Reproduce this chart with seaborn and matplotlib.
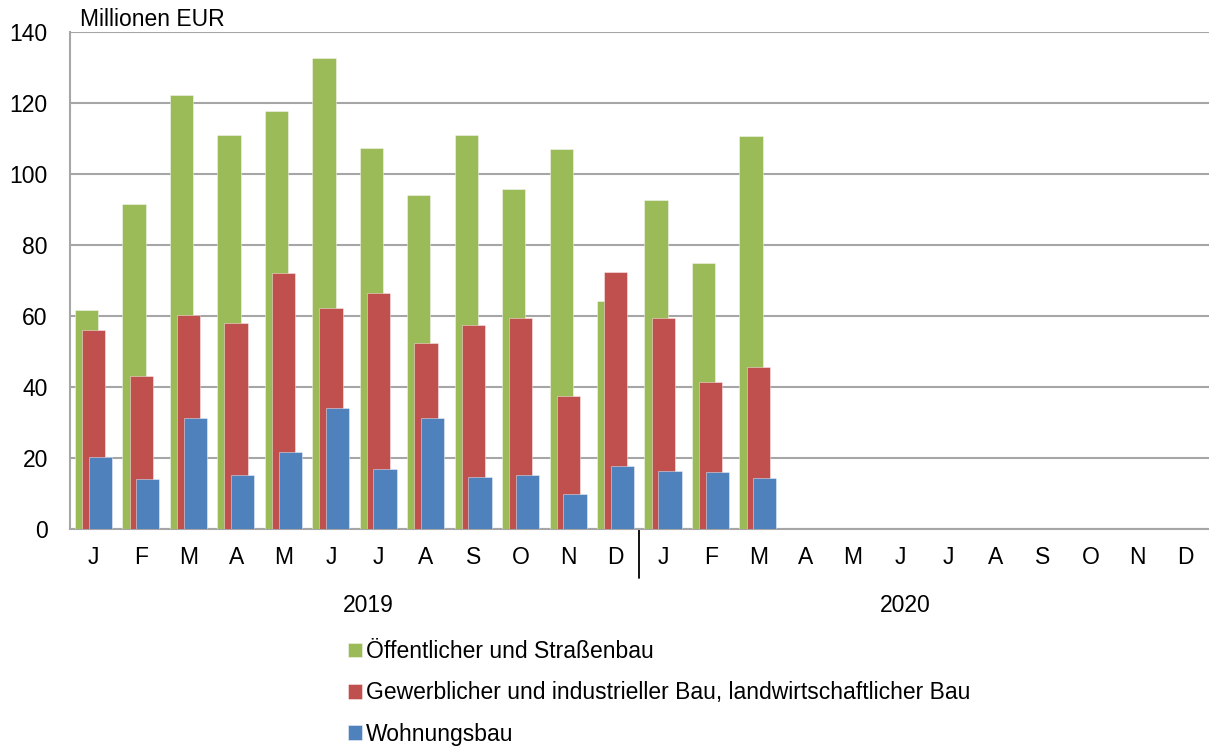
import numpy as np
import pandas as pd
import matplotlib
matplotlib.use("Agg")
import matplotlib.pyplot as plt
import seaborn as sns

# Daten (Millionen EUR), Jan 2019 - Dez 2020
monate = ["J", "F", "M", "A", "M", "J", "J", "A", "S", "O", "N", "D"] * 2
jahre = ["2019", "2020"]

oeffentlich = [61.7, 91.5, 122.3, 111.1, 117.7, 132.6, 107.3, 94.1, 110.9, 95.7, 107.0, 64.1,
               92.8, 74.8, 110.7] + [np.nan] * 9
gewerblich = [56.1, 43.2, 60.4, 57.9, 72.0, 62.2, 66.6, 52.5, 57.5, 59.5, 37.5, 72.4,
              59.5, 41.5, 45.6] + [np.nan] * 9
wohnungsbau = [20.2, 14.0, 31.4, 15.2, 21.6, 34.0, 16.9, 31.2, 14.7, 15.2, 9.9, 17.7,
               16.2, 16.1, 14.4] + [np.nan] * 9

serien = ["Öffentlicher und Straßenbau",
          "Gewerblicher und industrieller Bau, landwirtschaftlicher Bau",
          "Wohnungsbau"]
farben = ["#9BBB59", "#C0504D", "#4F81BD"]
versatz = [-0.15, 0.0, 0.14]

sns.set_theme(style="white")
plt.rcParams["font.family"] = ["Liberation Sans", "DejaVu Sans"]
plt.rcParams["text.color"] = "black"
fs = 16.5

fig = plt.figure(figsize=(12.09, 7.51), dpi=100)
ax = fig.add_axes([70 / 1209, 1 - 529 / 751, 1 - 70 / 1209, (529 - 32) / 751])

pos = np.arange(len(monate))
for name, werte, farbe, dx in zip(serien, [oeffentlich, gewerblich, wohnungsbau], farben, versatz):
    df = pd.DataFrame({"x": pos + dx, "wert": werte}).dropna()
    sns.barplot(data=df, x="x", y="wert", native_scale=True, width=0.49, color=farbe,
                errorbar=None, edgecolor=(1, 1, 1, 0.5), linewidth=0.6, label=name, ax=ax,
                saturation=1, zorder=3)

ax.set_xlim(-0.5, 23.5)
ax.set_ylim(0, 140)
ax.set_yticks(range(0, 141, 20))
ax.set_xticks(pos)
ax.set_xticklabels(monate)
ax.tick_params(axis="both", length=0, labelsize=fs, labelcolor="black")
ax.tick_params(axis="x", pad=12)
ax.tick_params(axis="y", pad=16)
ax.set_xlabel("")
ax.set_ylabel("")
ax.yaxis.grid(True, color="#A6A6A6", linewidth=1.5, zorder=0)
ax.set_axisbelow(True)
for s in ["top", "right"]:
    ax.spines[s].set_visible(False)
for s in ["left", "bottom"]:
    ax.spines[s].set_color("#A6A6A6")
    ax.spines[s].set_linewidth(1.5)

# Trennlinie zwischen den Jahren
trans = ax.get_xaxis_transform()
ax.plot([11.5, 11.5], [0, -0.099], color="black", linewidth=1.3, transform=trans, clip_on=False)
ax.text(5.78, -0.153, jahre[0], transform=trans, ha="center", va="center", fontsize=fs)
ax.text(17.09, -0.153, jahre[1], transform=trans, ha="center", va="center", fontsize=fs)

fig.text(80 / 1209, 1 - 19 / 751, "Millionen EUR", ha="left", va="center", fontsize=fs)

leg = ax.legend(loc="upper left", bbox_to_anchor=(348 / 1209, 1 - 640 / 751),
                bbox_transform=fig.transFigure, frameon=False, fontsize=fs,
                handlelength=0.6, handleheight=0.6, handletextpad=0.2,
                labelspacing=0.8, borderpad=0, borderaxespad=0)
for t in leg.get_texts():
    t.set_color("black")

fig.savefig("out.png", dpi=100)
